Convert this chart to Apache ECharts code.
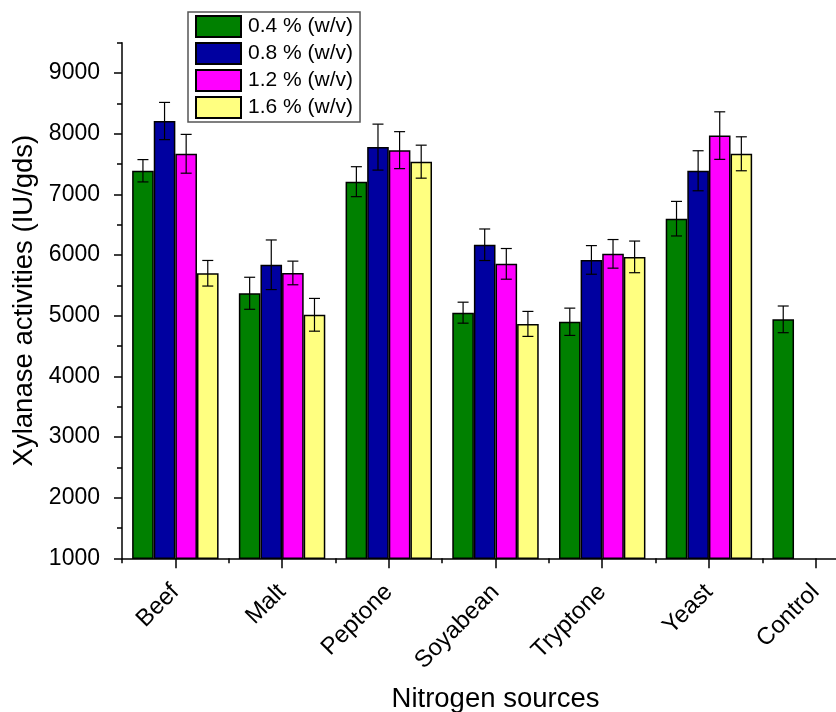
<!DOCTYPE html>
<html>
<head>
<meta charset="utf-8">
<script src="https://cdn.jsdelivr.net/npm/echarts@6/dist/echarts.min.js"></script>
<style>
html,body{margin:0;padding:0;background:#fff;}
#chart{width:836px;height:712px;}
</style>
</head>
<body>
<div id="chart"></div>
<script>
var categories = ['Beef', 'Malt', 'Peptone', 'Soyabean', 'Tryptone', 'Yeast', 'Control'];
var seriesNames = ['0.4 % (w/v)', '0.8 % (w/v)', '1.2 % (w/v)', '1.6 % (w/v)'];
var conc04 = [7390, 5370, 7210, 5050, 4900, 6600, 4940];
var conc08 = [8210, 5840, 7780, 6170, 5920, 7390, null];
var conc12 = [7670, 5705, 7730, 5855, 6020, 7970, null];
var conc16 = [5700, 5015, 7540, 4865, 5970, 7670, null];
var err04 = [184, 264, 247, 173, 225, 285, 220];
var err08 = [307, 409, 379, 260, 236, 330, null];
var err12 = [320, 195, 305, 253, 236, 392, null];
var err16 = [211, 270, 272, 206, 261, 280, null];
var yTicks = [1000, 2000, 3000, 4000, 5000, 6000, 7000, 8000, 9000];
var yMinorTicks = [1500, 2500, 3500, 4500, 5500, 6500, 7500, 8500, 9500];
var colors = ['#008000', '#0000A0', '#FF00FF', '#FFFF80'];

var FONT = 'Liberation Sans';
var GAP = 0.19;
var values = [conc04, conc08, conc12, conc16];
var errs = [err04, err08, err12, err16];

var series = [];
values.forEach(function (vals, i) {
  series.push({
    name: seriesNames[i],
    type: 'bar',
    data: vals,
    barGap: '0%',
    barCategoryGap: (GAP * 100) + '%',
    itemStyle: { color: colors[i], borderColor: '#000', borderWidth: 1.5 },
    emphasis: { disabled: true },
    z: 2
  });
});
values.forEach(function (vals, i) {
  var d = [];
  vals.forEach(function (v, k) {
    if (v != null) d.push([k, v, errs[i][k]]);
  });
  series.push({
    type: 'custom',
    data: d,
    encode: { x: 0, y: 1 },
    z: 5,
    silent: true,
    renderItem: function (params, api) {
      var c = api.value(0), v = api.value(1), e = api.value(2);
      var band = api.size([1, 0])[0];
      var bw = band * (1 - GAP) / 4;
      var off = (i - 1.5) * bw;
      var top = api.coord([c, v + e]);
      var bot = api.coord([c, v - e]);
      var x = top[0] + off;
      var hw = 5.5;
      var st = { stroke: '#000', lineWidth: 1.2 };
      return {
        type: 'group',
        children: [
          { type: 'line', shape: { x1: x, y1: top[1], x2: x, y2: bot[1] }, style: st },
          { type: 'line', shape: { x1: x - hw, y1: top[1], x2: x + hw, y2: top[1] }, style: st },
          { type: 'line', shape: { x1: x - hw, y1: bot[1], x2: x + hw, y2: bot[1] }, style: st }
        ]
      };
    }
  });
});

var chart = echarts.init(document.getElementById('chart'));
chart.setOption({
  animation: false,
  textStyle: { fontFamily: FONT },
  grid: { left: 122, right: -33, top: 42.8, bottom: 153.7, containLabel: false, outerBoundsMode: 'none' },
  legend: {
    data: seriesNames,
    orient: 'vertical',
    left: 188,
    top: 12,
    itemWidth: 45,
    itemHeight: 21,
    itemGap: 4,
    padding: [3, 7, 3, 7],
    borderColor: '#555',
    borderWidth: 1.5,
    icon: 'rect',
    textStyle: { fontFamily: FONT, fontSize: 21, color: '#000', padding: [0, 0, 0, 2] },
    selectedMode: false
  },
  xAxis: [{
    type: 'category',
    data: categories,
    position: 'bottom',
    name: 'Nitrogen sources',
    nameLocation: 'middle',
    nameGap: 127,
    nameTextStyle: { fontFamily: FONT, fontSize: 27.5, color: '#000' },
    axisLine: { show: true, lineStyle: { color: '#000', width: 1.5 } },
    axisTick: { show: true, alignWithLabel: true, length: 10, lineStyle: { color: '#000', width: 1.5 } },
    axisLabel: { rotate: 45, margin: 30, fontFamily: FONT, fontSize: 24, color: '#000', interval: 0 },
    splitLine: { show: false }
  }, {
    type: 'category',
    data: categories,
    position: 'bottom',
    axisLine: { show: false },
    axisTick: { show: true, length: 5, lineStyle: { color: '#000', width: 1.5 } },
    axisLabel: { show: false },
    splitLine: { show: false }
  }],
  yAxis: [{
    type: 'value',
    min: 1000,
    max: 9500,
    name: 'Xylanase activities (IU/gds)',
    nameLocation: 'middle',
    nameGap: 78,
    nameTextStyle: { fontFamily: FONT, fontSize: 27.5, color: '#000' },
    axisLine: { show: true, lineStyle: { color: '#000', width: 1.5 } },
    axisTick: { show: true, length: 8, customValues: yTicks, lineStyle: { color: '#000', width: 1.5 } },
    axisLabel: {
      customValues: yTicks, margin: 22, fontFamily: FONT, fontSize: 23, color: '#000',
      formatter: function (v) { return String(v); }
    },
    splitLine: { show: false }
  }, {
    type: 'value',
    min: 1000,
    max: 9500,
    position: 'left',
    axisLine: { show: false },
    axisTick: { show: true, length: 5, customValues: yMinorTicks, lineStyle: { color: '#000', width: 1.5 } },
    axisLabel: { show: false },
    splitLine: { show: false }
  }],
  series: series
});
</script>
</body>
</html>
